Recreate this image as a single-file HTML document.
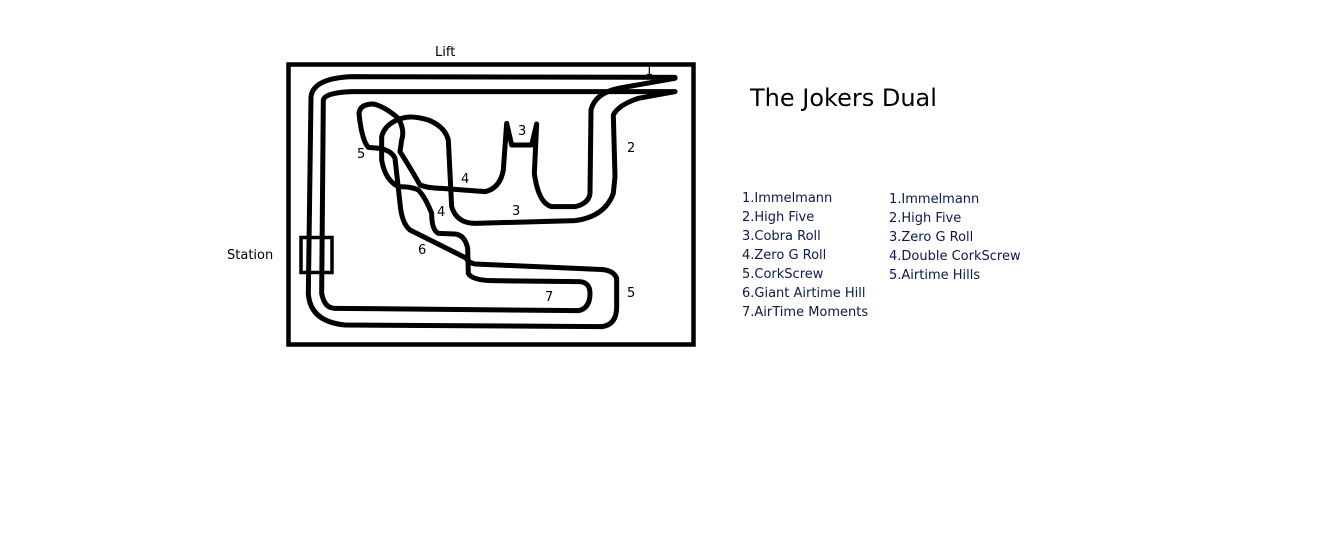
<!DOCTYPE html>
<html><head><meta charset="utf-8"><style>
html,body{margin:0;padding:0;background:#fff;}
body{width:1344px;height:555px;position:relative;overflow:hidden;font-family:"DejaVu Sans","Liberation Sans",sans-serif;}
.t{position:absolute;font-size:13px;color:#000;white-space:nowrap;line-height:1;}
.l{position:absolute;font-size:13px;color:#0a1a4a;line-height:19px;white-space:pre;}
</style></head><body>
<svg width="1344" height="555" style="position:absolute;left:0;top:0">
<rect x="288.5" y="64.5" width="405" height="280" fill="none" stroke="#000" stroke-width="4.5"/>
<rect x="301" y="237.5" width="31" height="35" fill="none" stroke="#000" stroke-width="3.5"/>
<g transform="translate(285,60) scale(0.33333)" fill="none" stroke="#000" stroke-width="15" stroke-linecap="round" stroke-linejoin="round">
<path d="M1170,52 L200,50 Q85,55 78,110 L70,700 Q75,785 180,795 L950,800 Q995,795 995,740 L995,655 Q985,628 940,628 L570,612 Q545,605 545,595 L375,510 Q350,490 345,430 L330,295 Q320,272 285,265 L250,262 Q230,240 222,160 Q225,132 265,132 Q300,140 340,175 Q360,210 350,240 L345,275 Q380,330 405,375 Q430,385 470,385 L600,395 Q645,385 655,330 L665,190 L680,255 L740,255 L755,192 L748,340 Q760,430 800,440 L870,440 Q912,430 915,400 L918,150 Q930,100 1000,85 L1170,55"/>
<path d="M1170,95 L200,95 Q120,98 115,120 L110,700 Q118,745 150,745 L880,752 Q915,745 915,700 Q915,665 880,665 L620,662 Q560,660 550,640 L548,565 Q540,525 510,522 L460,520 Q440,510 440,460 Q420,410 400,390 Q380,380 340,380 Q300,360 290,300 L290,230 Q300,190 350,175 Q380,165 430,180 Q480,200 490,240 L500,440 Q515,490 570,490 L870,482 Q960,470 985,400 L990,350 L985,165 Q1000,135 1060,115 L1170,95"/>
</g>
</svg>
<div class="t" style="left:435px;top:46px">Lift</div>
<div class="t" style="left:645px;top:65px">1</div>
<div class="t" style="left:518px;top:125px">3</div>
<div class="t" style="left:627px;top:142px">2</div>
<div class="t" style="left:357px;top:148px">5</div>
<div class="t" style="left:461px;top:173px">4</div>
<div class="t" style="left:437px;top:206px">4</div>
<div class="t" style="left:512px;top:205px">3</div>
<div class="t" style="left:418px;top:244px">6</div>
<div class="t" style="left:545px;top:291px">7</div>
<div class="t" style="left:627px;top:287px">5</div>
<div class="t" style="left:227px;top:249px">Station</div>
<div class="t" style="left:750px;top:86px;font-size:24px">The Jokers Dual</div>
<div class="l" style="left:742px;top:189px">1.Immelmann
2.High Five
3.Cobra Roll
4.Zero G Roll
5.CorkScrew
6.Giant Airtime Hill
7.AirTime Moments</div>
<div class="l" style="left:889px;top:190px">1.Immelmann
2.High Five
3.Zero G Roll
4.Double CorkScrew
5.Airtime Hills</div>
</body></html>
